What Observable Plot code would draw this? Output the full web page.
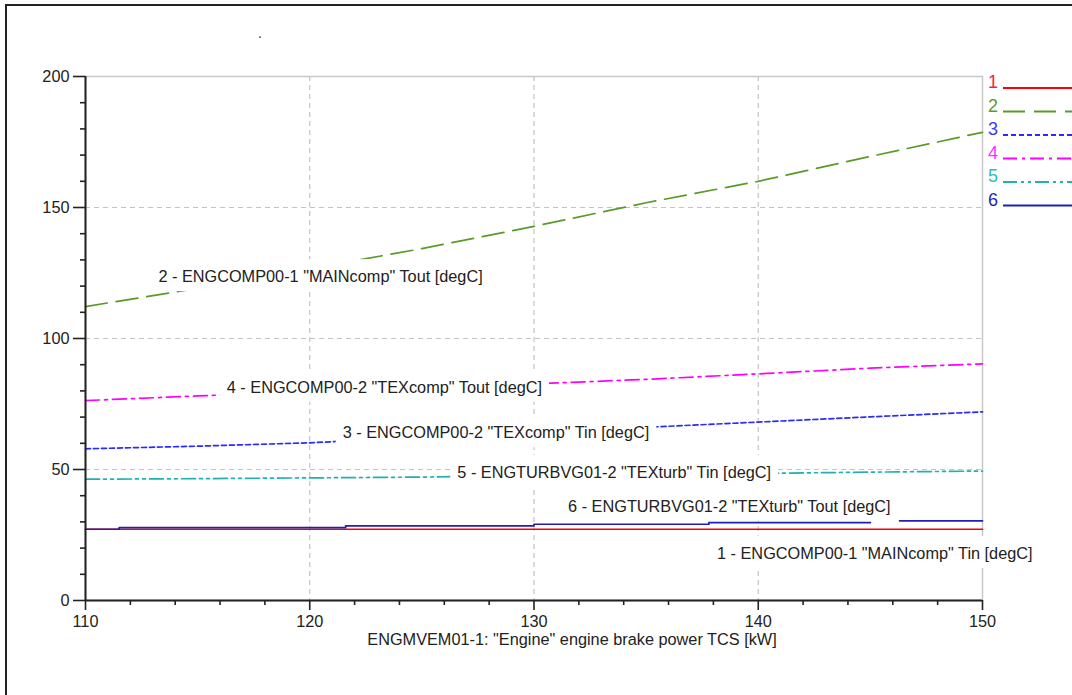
<!DOCTYPE html>
<html>
<head>
<meta charset="utf-8">
<script src="https://cdn.jsdelivr.net/npm/d3@7"></script>
<script src="https://cdn.jsdelivr.net/npm/@observablehq/plot@0.6"></script>
<style>
html, body { margin: 0; padding: 0; background: #fff; overflow: hidden; width: 1072px; height: 695px; }
#wrap { position: relative; width: 1072px; height: 695px; font-family: "Liberation Sans", Arial, sans-serif; color: #222; }
#chart { position: absolute; left: 0; top: 0; }
#border { position: absolute; left: 5px; top: 4px; width: 1200px; height: 800px; border-left: 2px solid #222; border-top: 2px solid #222; pointer-events: none; }
#legend { position: absolute; left: 980px; top: 60px; }
#dot { position: absolute; left: 258px; top: 25px; font-size: 14px; color: #333; }
</style>
</head>
<body>
<div id="wrap">
  <div id="chart"></div>
  <svg id="legend"></svg>
  <div id="dot">.</div>
  <div id="border"></div>
</div>
<script>
// ---- data ----
const power = [110, 115, 120, 125, 130, 135, 140, 145, 150];          // kW
const mainCompTout = [112.2, 119.1, 126.6, 134.3, 142.8, 151.8, 160.0, 169.5, 178.7];
const texCompTout  = [76.3, 78.1, 79.6, 81.1, 82.7, 84.4, 86.5, 88.7, 90.3];
const texCompTin   = [57.9, 58.9, 60.2, 62.2, 64.1, 66.1, 68.1, 70.1, 72.0];
const texTurbTin   = [46.3, 46.5, 46.8, 47.1, 47.7, 48.1, 48.5, 49.0, 49.4];
const mainCompTinX = [110, 150];
const mainCompTin  = [27.2, 27.2];
const texTurbToutX = [110, 111.5, 121.6, 130, 137.8, 145.0, 145.6, 146.3, 150];
const texTurbTout  = [27.2, 27.8, 28.5, 29.1, 29.7, 29.7, NaN, 30.4, 30.4];

const seriesIds = ["1", "2", "3", "4", "5", "6"];
const seriesNames = [
  'ENGCOMP00-1 "MAINcomp" Tin [degC]',
  'ENGCOMP00-1 "MAINcomp" Tout [degC]',
  'ENGCOMP00-2 "TEXcomp" Tin [degC]',
  'ENGCOMP00-2 "TEXcomp" Tout [degC]',
  'ENGTURBVG01-2 "TEXturb" Tin [degC]',
  'ENGTURBVG01-2 "TEXturb" Tout [degC]'
];
// label anchor points (data units)
const labelX = [138.16, 113.25, 121.47, 116.3, 126.58, 131.52];
const labelY = [17.9, 123.5, 63.9, 81.3, 48.85, 35.9];

const xMajor = [110, 120, 130, 140, 150];
const xMinor = [112, 114, 116, 118, 122, 124, 126, 128, 132, 134, 136, 138, 142, 144, 146, 148];
const yMajor = [0, 50, 100, 150, 200];
const yMinor = [10, 20, 30, 40, 60, 70, 80, 90, 110, 120, 130, 140, 160, 170, 180, 190];
const xTitle = 'ENGMVEM01-1: "Engine" engine brake power TCS [kW]';

// ---- styles ----
const colors = ["#ff0000", "#5a9a28", "#2a2aff", "#ff00ff", "#22b0b0", "#1f1fb4"];
const legendText = ["#ff2040", "#5a9a28", "#3a3aff", "#ff30ff", "#30bcbc", "#1f1fc0"];
const dashes = [null, "22,9", "5,3", "14,5,3,5", "14,4,3,4,3,4", null];
const FS = 16.3;

const rows = (xs, ys) => xs.map((x, i) => ({x, y: ys[i]}));
const seriesData = [
  rows(mainCompTinX, mainCompTin),
  rows(power, mainCompTout),
  rows(power, texCompTin),
  rows(power, texCompTout),
  rows(power, texTurbTin),
  rows(texTurbToutX, texTurbTout)
];
const seriesCurve = ["linear", "linear", "linear", "linear", "linear", "step-after"];
const labelTexts = seriesIds.map((id, i) => `${id} - ${seriesNames[i]}`);
const labelRows = seriesIds.map((id, i) => ({x: labelX[i], y: labelY[i], t: labelTexts[i]}));

const gridStyle = {stroke: "#c4c4c4", strokeOpacity: 1, strokeWidth: 1.2, strokeDasharray: "5,4"};

const chart = Plot.plot({
  width: 1072,
  height: 695,
  marginLeft: 85,
  marginRight: 90,
  marginTop: 76,
  marginBottom: 95,
  style: {background: "transparent", fontFamily: '"Liberation Sans", Arial, sans-serif', fontSize: FS + "px", color: "#222"},
  x: {domain: [xMajor[0], xMajor[xMajor.length - 1]]},
  y: {domain: [yMajor[0], yMajor[yMajor.length - 1]]},
  marks: [
    Plot.frame({stroke: "#c8c8c8", strokeWidth: 1.5}),
    Plot.gridX(xMajor.slice(1, -1), gridStyle),
    Plot.gridY(yMajor.slice(1, -1), gridStyle),
    ...seriesData.map((d, i) => Plot.line(d, {
      x: "x", y: "y", stroke: colors[i], strokeWidth: 1.7,
      strokeDasharray: dashes[i] || undefined, curve: seriesCurve[i]
    })),
    Plot.ruleX([xMajor[0]], {stroke: "#222", strokeWidth: 2}),
    Plot.ruleY([yMajor[0]], {stroke: "#222", strokeWidth: 2}),
    Plot.axisY(yMajor, {tickSize: 12, tickPadding: 4, fontSize: FS, strokeWidth: 1.6, label: null}),
    Plot.axisY(yMinor, {tickSize: 5, tickFormat: () => "", strokeWidth: 1.6, label: null}),
    Plot.axisX(xMajor, {tickSize: 10, tickPadding: 5, fontSize: FS, strokeWidth: 1.6, label: null}),
    Plot.axisX(xMinor, {tickSize: 5, tickFormat: () => "", strokeWidth: 1.6, label: null}),
    Plot.text(labelRows, {x: "x", y: "y", text: "t", textAnchor: "start", fill: "#222", fontSize: FS}),
    Plot.text([xTitle], {frameAnchor: "bottom", dx: 38, dy: 44, fill: "#222", fontSize: FS})
  ]
});
document.getElementById("chart").appendChild(chart);

// white boxes behind the in-plot series labels (like the original label boxes)
Array.from(chart.querySelectorAll("text"))
  .filter(t => labelTexts.includes(t.textContent))
  .forEach(t => {
    const b = t.getBBox();
    const r = document.createElementNS("http://www.w3.org/2000/svg", "rect");
    r.setAttribute("x", b.x - 7);
    r.setAttribute("y", b.y - 8);
    r.setAttribute("width", b.width + 14);
    r.setAttribute("height", b.height + 14);
    r.setAttribute("fill", "white");
    r.setAttribute("stroke", "none");
    const tr = t.getAttribute("transform");
    if (tr) r.setAttribute("transform", tr);
    t.parentNode.insertBefore(r, t);
  });

// legend on the right
const leg = d3.select("#legend").attr("width", 92).attr("height", 160)
  .style("font-family", '"Liberation Sans", Arial, sans-serif');
seriesIds.forEach((id, i) => {
  const yb = 28 + i * 23.5;
  leg.append("text").attr("x", 8).attr("y", yb).text(id)
    .attr("fill", legendText[i]).style("font-size", "18px");
  leg.append("line").attr("x1", 23).attr("x2", 100).attr("y1", yb).attr("y2", yb)
    .attr("stroke", colors[i]).attr("stroke-width", 1.8)
    .attr("stroke-dasharray", dashes[i]);
});
</script>
</body>
</html>
